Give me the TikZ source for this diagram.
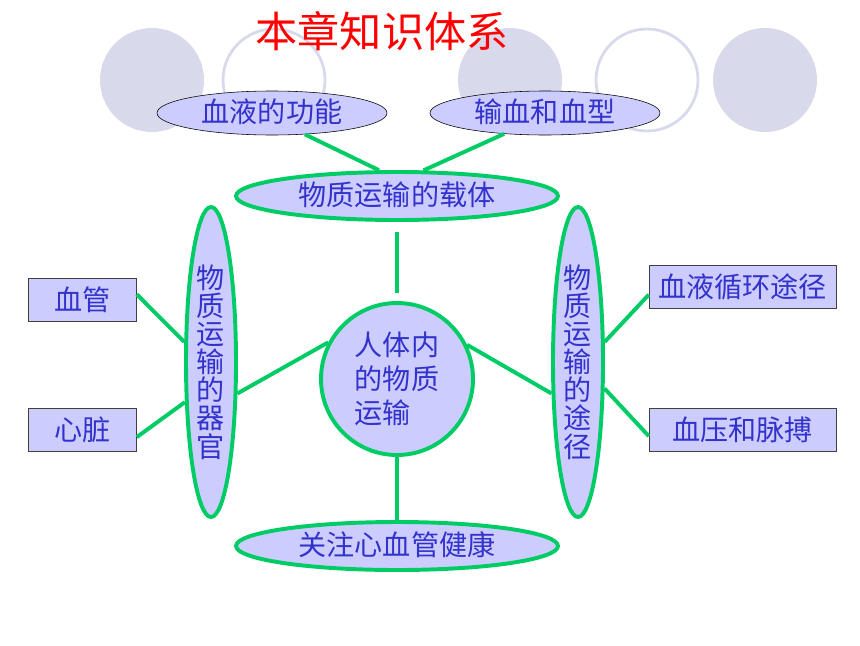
\documentclass[tikz,border=0pt]{standalone}
\usepackage{fontspec}
\setmainfont{Noto Sans CJK SC}
\usepackage{xcolor}
\usetikzlibrary{shapes.geometric}
\definecolor{lav}{HTML}{CCCCFF}
\definecolor{txtblue}{HTML}{3333CC}
\definecolor{lgreen}{HTML}{00CC66}
\definecolor{deco}{HTML}{D9D9EC}
\newcommand{\pxl}{0.025cm}

\begin{document}
\begin{tikzpicture}[x=0.025cm, y=-0.025cm,
  bigtext/.style={font=\fontsize{20}{24}\selectfont, text=txtblue},
  topoval/.style={bigtext, ellipse, draw=black, thin, fill=lav, inner sep=0pt,
    text height=16pt, text depth=2pt, minimum width=230*\pxl, minimum height=44*\pxl},
  greenoval/.style={bigtext, ellipse, draw=lgreen, line width=2.8pt, fill=lav, inner sep=0pt,
    text height=16pt, text depth=2pt, minimum width=322*\pxl, minimum height=48*\pxl},
  sideoval/.style={ellipse, draw=lgreen, line width=2.8pt, fill=lav, inner sep=0pt,
    font=\fontsize{20}{20}\selectfont, text=txtblue, align=center,
    minimum width=50*\pxl, minimum height=310*\pxl},
  leafbox/.style={bigtext, draw=black!75, fill=lav, inner sep=0pt,
    minimum height=43*\pxl},
  link/.style={lgreen, line width=2.8pt}]
\useasboundingbox (0,0) rectangle (860,645);

\fill[deco] (152,80) circle (52);
\draw[deco, line width=2pt] (274,80) circle (51);
\fill[deco] (510,80) circle (52);
\draw[deco, line width=2pt] (647,80) circle (51);
\fill[deco] (765,80) circle (52);

\node[font=\fontsize{30}{36}\selectfont, text=red] (title) at (382,31) {本章知识体系};

\node[topoval] (func) at (272,113) {血液的功能};
\node[topoval] (blood) at (545,113) {输血和血型};
\node[greenoval] (carrier) at (397,196) {物质运输的载体};
\node[greenoval] (health) at (397,546) {关注心血管健康};

\node[sideoval] (organs) at (211,362) {物\\质\\运\\输\\的\\器\\官};
\node[sideoval] (route) at (578,362) {物\\质\\运\\输\\的\\途\\径};

\node[circle, draw=lgreen, line width=2.8pt, fill=lav, inner sep=0pt, minimum size=152*\pxl,
  font=\fontsize{20}{24}\selectfont, text=txtblue, align=left] (core) at (397,379)
  {人体内\\的物质\\运输};

\node[leafbox, minimum width=108*\pxl] (vessel) at (82.5,300) {血管};
\node[leafbox, minimum width=108*\pxl] (heart) at (82.5,429.5) {心脏};
\node[leafbox, minimum width=187*\pxl] (circ) at (742.5,286.5) {血液循环途径};
\node[leafbox, minimum width=187*\pxl] (press) at (742.5,429.5) {血压和脉搏};

\draw[link] (func.-33) -- (carrier.125);
\draw[link] (blood.-153) -- (carrier.44);
\draw[link, shorten <=0.25cm, shorten >=0.2cm] (carrier.south) -- (core.north);
\draw[link] (core.south) -- (health.north);
\draw[link] (core.152) -- (organs.-50);
\draw[link] (core.26) -- (route.-130);
\draw[link] (vessel.6) -- (organs.143);
\draw[link] (heart.-8) -- (organs.-123);
\draw[link] (route.37) -- (circ.-175);
\draw[link] (route.-45) -- (press.-176);
\end{tikzpicture}
\end{document}
